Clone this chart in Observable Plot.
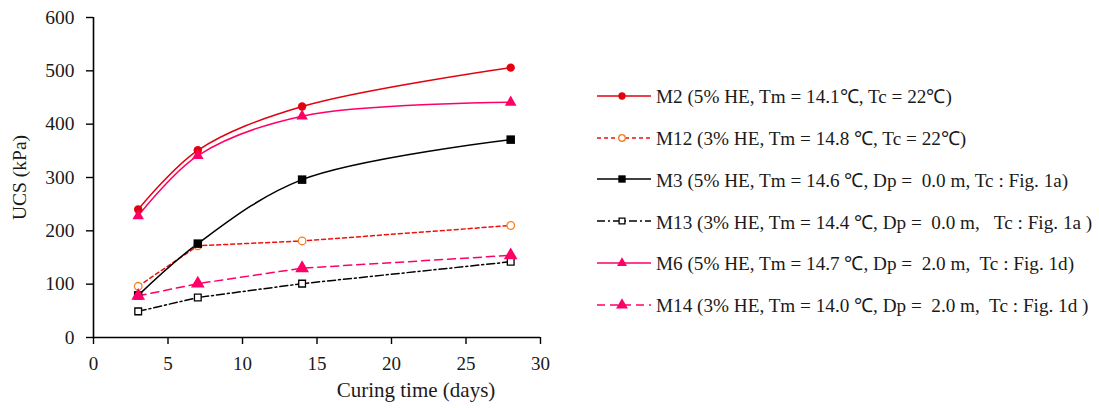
<!DOCTYPE html>
<html>
<head>
<meta charset="utf-8">
<script src="https://cdn.jsdelivr.net/npm/d3@7"></script>
<script src="https://cdn.jsdelivr.net/npm/@observablehq/plot@0.6"></script>
<style>
  body { margin: 0; background: #fff; }
  #wrap { position: relative; width: 1099px; height: 408px; font-family: "Liberation Serif", serif; }
  #legend { position: absolute; left: 596px; top: 0; }
  .row { position: absolute; left: 0; height: 24px; display: flex; align-items: center; white-space: pre; font-size: 19.2px; color: #1a1a1a; }
  .row svg { display: block; margin-right: 4px; }
  #xlabel { position: absolute; left: 266px; width: 300px; top: 380px; line-height: 21px; font-size: 21px; text-align: center; color: #1a1a1a; white-space: pre; }
</style>
</head>
<body>
<div id="wrap"><div id="legend"></div><div id="xlabel"></div></div>
<script>
// ---- data ----
const days = [3, 7, 14, 28];
const M2  = [240, 351, 433, 506];
const M12 = [96, 172, 181, 210];
const M3  = [79, 176, 296, 371];
const M13 = [49, 75, 101, 142];
const M6  = [228, 341, 415, 441];
const M14 = [78, 101, 130, 154];
const seriesNames = ["M2", "M12", "M3", "M13", "M6", "M14"];
const seriesValues = [M2, M12, M3, M13, M6, M14];
const legendLabels = [
  "M2 (5% HE, Tm = 14.1℃, Tc = 22℃)",
  "M12 (3% HE, Tm = 14.8 ℃, Tc = 22℃)",
  "M3 (5% HE, Tm = 14.6 ℃, Dp =  0.0 m, Tc : Fig. 1a)",
  "M13 (3% HE, Tm = 14.4 ℃, Dp =  0.0 m,   Tc : Fig. 1a )",
  "M6 (5% HE, Tm = 14.7 ℃, Dp =  2.0 m,  Tc : Fig. 1d)",
  "M14 (3% HE, Tm = 14.0 ℃, Dp =  2.0 m,  Tc : Fig. 1d )"
];
const xTicks = [0, 5, 10, 15, 20, 25, 30];
const yTicks = [0, 100, 200, 300, 400, 500, 600];
const xTitle = "Curing time (days)";
const yTitle = "UCS (kPa)";

// ---- styles ----
const styles = {
  M2:  {line: "#E3000F", dash: null,      curve: "catmull-rom", symbol: "circle",   r: 4.2, fill: "#E3000F", mstroke: "none"},
  M12: {line: "#F01010", dash: "4,3",     curve: "linear",      symbol: "circle",   r: 3.8, fill: "white",   mstroke: "#F5821F"},
  M3:  {line: "#000000", dash: null,      curve: "catmull-rom", symbol: "square",   r: 4.8, fill: "#000000", mstroke: "none"},
  M13: {line: "#000000", dash: "8,3,2,3", curve: "linear",      symbol: "square",   r: 3.8, fill: "white",   mstroke: "#000000"},
  M6:  {line: "#FF0066", dash: null,      curve: "catmull-rom", symbol: "triangle", r: 4.3, fill: "#FF0066", mstroke: "none"},
  M14: {line: "#FF0066", dash: "8,5",     curve: "linear",      symbol: "triangle", r: 5.1, fill: "#FF0066", mstroke: "none"}
};

const rows = seriesNames.flatMap((s, i) => days.map((d, j) => ({series: s, day: d, ucs: seriesValues[i][j]})));

const marks = [];
for (const s of seriesNames) {
  const st = styles[s];
  const data = rows.filter(r => r.series === s);
  marks.push(Plot.line(data, {x: "day", y: "ucs", stroke: st.line, strokeWidth: 1.5, strokeDasharray: st.dash, curve: st.curve}));
}
for (const s of seriesNames) {
  const st = styles[s];
  const data = rows.filter(r => r.series === s);
  marks.push(Plot.dot(data, {x: "day", y: "ucs", symbol: st.symbol, r: st.r, fill: st.fill, stroke: st.mstroke, strokeWidth: 1.3}));
}

const chart = Plot.plot({
  width: 1099,
  height: 408,
  marginLeft: 93,
  marginRight: 559,
  marginTop: 17,
  marginBottom: 71,
  style: {fontFamily: "Liberation Serif, serif", fontSize: "19px", color: "#1a1a1a", background: "white"},
  x: {domain: [0, 30]},
  y: {domain: [0, 600]},
  marks: [
    Plot.axisX({ticks: xTicks, tickSize: 7, tickPadding: 12, stroke: "#000", strokeWidth: 1.4, tickFormat: d => String(d), label: null}),
    Plot.axisY({ticks: yTicks, tickSize: 7, tickPadding: 12, stroke: "#000", strokeWidth: 1.4, tickFormat: d => String(d),
      label: yTitle, labelAnchor: "center", labelOffset: 81, labelArrow: "none", fontSize: "19.5px"}),
    Plot.ruleX([0], {stroke: "#000", strokeWidth: 1.6}),
    Plot.ruleY([0], {stroke: "#000", strokeWidth: 1.6}),
    ...marks
  ]
});
document.getElementById("wrap").prepend(chart);
document.getElementById("xlabel").textContent = xTitle;

// ---- legend (HTML) ----
const legend = d3.select("#legend");
const symPath = {circle: d3.symbolCircle, square: d3.symbolSquare, triangle: d3.symbolTriangle};
seriesNames.forEach((s, i) => {
  const st = styles[s];
  const cy = 95.7 + i * 41.8;
  const row = legend.append("div").attr("class", "row").style("top", (cy - 12) + "px");
  const svg = row.append("svg").attr("width", 56).attr("height", 24);
  svg.append("line").attr("x1", 1).attr("x2", 55).attr("y1", 12).attr("y2", 12)
    .attr("stroke", st.line).attr("stroke-width", 1.5).attr("stroke-dasharray", st.dash);
  const area = Math.PI * st.r * st.r * 0.75;
  svg.append("path").attr("transform", "translate(26,12)")
    .attr("d", d3.symbol(symPath[st.symbol], area)())
    .attr("fill", st.fill).attr("stroke", st.mstroke).attr("stroke-width", 1.3);
  row.append("span").text(legendLabels[i]);
});
</script>
</body>
</html>
